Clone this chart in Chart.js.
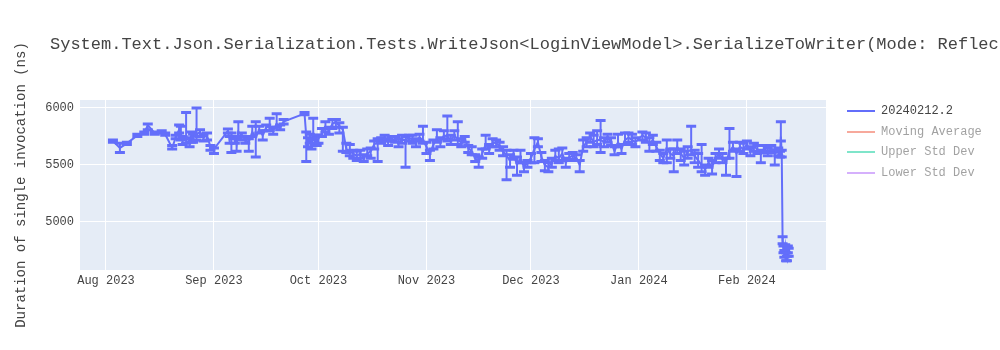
<!DOCTYPE html>
<html>
<head>
<meta charset="utf-8">
<script src="https://cdn.jsdelivr.net/npm/chart.js@4"></script>
<style>
  body { margin: 0; background: #fff; }
  #wrap { position: relative; width: 1000px; height: 350px; font-family: "Courier New", "Liberation Mono", monospace; }
  #title { position: absolute; left: 50px; top: 35px; font-size: 17px; color: #444; white-space: nowrap; }
  #legend { position: absolute; left: 847px; top: 101px; font-size: 12px; color: #444; }
  .row { height: 20.5px; display: flex; align-items: center; white-space: nowrap; }
  .swatch { width: 28px; height: 2px; margin-right: 6px; }
</style>
</head>
<body>
<div id="wrap">
  <canvas id="chart" width="1000" height="350"></canvas>
  <div id="title">System.Text.Json.Serialization.Tests.WriteJson&lt;LoginViewModel&gt;.SerializeToWriter(Mode: Reflection)</div>
  <div id="legend"></div>
</div>
<script>
// Datos
const runDates = [
  '2023-08-03', '2023-08-05', '2023-08-07', '2023-08-10', '2023-08-12', '2023-08-13', '2023-08-15', '2023-08-17',
  '2023-08-18', '2023-08-20', '2023-08-21', '2023-08-22', '2023-08-22T12:00', '2023-08-23', '2023-08-24', '2023-08-25',
  '2023-08-25T12:00', '2023-08-26', '2023-08-27', '2023-08-28', '2023-08-29', '2023-08-30', '2023-08-31', '2023-09-01',
  '2023-09-05', '2023-09-05T12:00', '2023-09-06', '2023-09-07', '2023-09-07T12:00', '2023-09-08', '2023-09-09', '2023-09-10',
  '2023-09-11', '2023-09-12', '2023-09-13', '2023-09-14', '2023-09-15', '2023-09-16', '2023-09-17', '2023-09-18',
  '2023-09-19', '2023-09-20', '2023-09-21', '2023-09-27', '2023-09-27T12:00', '2023-09-28', '2023-09-28T12:00', '2023-09-29',
  '2023-09-29T12:00', '2023-09-30', '2023-09-30T12:00', '2023-10-01', '2023-10-02', '2023-10-03', '2023-10-04', '2023-10-05',
  '2023-10-06', '2023-10-07', '2023-10-08', '2023-10-09', '2023-10-10', '2023-10-11', '2023-10-12', '2023-10-13',
  '2023-10-14', '2023-10-15', '2023-10-16', '2023-10-17', '2023-10-18', '2023-10-19', '2023-10-20', '2023-10-21',
  '2023-10-22', '2023-10-23', '2023-10-24', '2023-10-25', '2023-10-26', '2023-10-27', '2023-10-28', '2023-10-29',
  '2023-10-30', '2023-10-31', '2023-11-01', '2023-11-02', '2023-11-03', '2023-11-04', '2023-11-05', '2023-11-06',
  '2023-11-07', '2023-11-08', '2023-11-09', '2023-11-10', '2023-11-11', '2023-11-12', '2023-11-13', '2023-11-14',
  '2023-11-15', '2023-11-16', '2023-11-17', '2023-11-18', '2023-11-19', '2023-11-20', '2023-11-21', '2023-11-22',
  '2023-11-23', '2023-11-24', '2023-11-25', '2023-11-26', '2023-11-27', '2023-11-28', '2023-11-29', '2023-11-30',
  '2023-12-01', '2023-12-02', '2023-12-03', '2023-12-04', '2023-12-05', '2023-12-06', '2023-12-07', '2023-12-08',
  '2023-12-09', '2023-12-10', '2023-12-11', '2023-12-12', '2023-12-13', '2023-12-14', '2023-12-15', '2023-12-16',
  '2023-12-17', '2023-12-18', '2023-12-19', '2023-12-20', '2023-12-21', '2023-12-22', '2023-12-23', '2023-12-24',
  '2023-12-25', '2023-12-26', '2023-12-27', '2023-12-28', '2023-12-29', '2023-12-30', '2023-12-31', '2024-01-02',
  '2024-01-03', '2024-01-04', '2024-01-05', '2024-01-06', '2024-01-07', '2024-01-08', '2024-01-09', '2024-01-10',
  '2024-01-11', '2024-01-12', '2024-01-13', '2024-01-14', '2024-01-15', '2024-01-16', '2024-01-17', '2024-01-18',
  '2024-01-19', '2024-01-20', '2024-01-21', '2024-01-22', '2024-01-23', '2024-01-24', '2024-01-25', '2024-01-26',
  '2024-01-27', '2024-01-28', '2024-01-29', '2024-01-30', '2024-01-31', '2024-02-01', '2024-02-02', '2024-02-03',
  '2024-02-04', '2024-02-05', '2024-02-06', '2024-02-07', '2024-02-08', '2024-02-09', '2024-02-10', '2024-02-10T12:00',
  '2024-02-10T18:00', '2024-02-11', '2024-02-11T06:00', '2024-02-11T12:00', '2024-02-11T18:00', '2024-02-12', '2024-02-12T06:00', '2024-02-12T12:00',
  '2024-02-12T18:00', '2024-02-13'
];
const durations = [
  5710, 5650, 5690, 5760, 5780, 5850, 5780, 5790,
  5770, 5650, 5740, 5810, 5780, 5720, 5750, 5700,
  5760, 5740, 5770, 5790, 5740, 5760, 5660, 5640,
  5800, 5720, 5740, 5720, 5680, 5790, 5760, 5720,
  5700, 5790, 5740, 5810, 5760, 5830, 5840, 5800,
  5860, 5830, 5880, 5950, 5750, 5700, 5740, 5680,
  5760, 5720, 5700, 5730, 5780, 5830, 5800, 5860,
  5880, 5840, 5810, 5640, 5620, 5600, 5580, 5600,
  5560, 5600, 5620, 5680, 5700, 5720, 5740, 5700,
  5730, 5720, 5700, 5720, 5720, 5740, 5720, 5700,
  5740, 5720, 5660, 5600, 5680, 5730, 5700, 5760,
  5750, 5720, 5760, 5720, 5700, 5730, 5650, 5620,
  5560, 5530, 5600, 5680, 5640, 5700, 5690, 5670,
  5620, 5580, 5540, 5600, 5500, 5560, 5480, 5520,
  5560, 5640, 5700, 5570, 5500, 5480, 5520, 5580,
  5560, 5600, 5520, 5570, 5580, 5560, 5500, 5660,
  5700, 5750, 5700, 5720, 5720, 5700, 5740, 5700,
  5620, 5700, 5640, 5720, 5740, 5720, 5700, 5760,
  5740, 5680, 5720, 5660, 5600, 5560, 5640, 5600,
  5580, 5660, 5600, 5560, 5620, 5630, 5580, 5540,
  5500, 5460, 5520, 5480, 5560, 5600, 5560, 5520,
  5620, 5660, 5600, 5660, 5640, 5680, 5620, 5660,
  5640, 5600, 5640, 5620, 5640, 5600, 5620, 5600,
  5750, 5600, 4840, 4760, 4720, 4780, 4700, 4680,
  4760, 4740
];
const errorUp = [
  10, 40, 10, 10, 10, 10, 10, 10,
  10, 20, 20, 40, 60, 30, 210, 40,
  30, 30, 230, 20, 30, 20, 10, 10,
  15, 30, 40, 30, 50, 90, 20, 30,
  30, 50, 140, 30, 40, 20, 70, 30,
  90, 20, 20, 10, 40, 40, 30, 50,
  150, 40, 60, 30, 40, 50, 30, 40,
  20, 30, 20, 50, 60, 30, 40, 30,
  30, 40, 30, 30, 30, 20, 20, 30,
  20, 30, 30, 40, 30, 20, 40, 30,
  30, 120, 40, 30, 40, 80, 40, 40,
  180, 40, 40, 160, 30, 20, 20, 40,
  30, 40, 40, 80, 40, 30, 30, 30,
  40, 50, 50, 30, 70, 70, 40, 20,
  40, 100, 30, 40, 40, 40, 40, 50,
  80, 50, 40, 30, 30, 30, 40, 60,
  40, 30, 60, 80, 170, 40, 30, 40,
  40, 70, 40, 60, 40, 50, 40, 30,
  40, 60, 40, 40, 30, 40, 80, 40,
  60, 60, 40, 60, 40, 210, 50, 60,
  180, 40, 40, 60, 40, 40, 40, 40,
  200, 40, 40, 40, 50, 30, 40, 30,
  30, 30, 30, 30, 30, 30, 30, 20,
  130, 30, 30, 30, 30, 20, 30, 20,
  30, 30
];
const errorDown = [
  10, 40, 10, 10, 10, 40, 10, 10,
  10, 10, 10, 30, 60, 40, 60, 40,
  60, 40, 50, 40, 30, 40, 30, 40,
  20, 30, 130, 30, 60, 40, 40, 30,
  80, 40, 170, 30, 40, 30, 40, 30,
  30, 20, 20, 10, 220, 40, 50, 40,
  40, 40, 30, 40, 30, 40, 30, 40,
  50, 60, 190, 30, 40, 40, 40, 40,
  30, 20, 60, 40, 170, 30, 30, 30,
  20, 20, 40, 30, 240, 30, 30, 40,
  30, 30, 60, 60, 40, 30, 40, 30,
  40, 40, 40, 40, 40, 30, 40, 30,
  30, 50, 40, 40, 40, 40, 30, 40,
  40, 210, 60, 50, 90, 40, 40, 40,
  40, 120, 40, 40, 50, 40, 40, 40,
  40, 60, 40, 30, 30, 20, 60, 40,
  40, 50, 40, 40, 110, 40, 40, 30,
  30, 40, 40, 40, 40, 40, 40, 40,
  40, 60, 40, 40, 60, 40, 120, 40,
  140, 60, 60, 60, 60, 40, 60, 60,
  60, 50, 40, 60, 40, 40, 40, 110,
  60, 40, 200, 40, 40, 40, 40, 40,
  40, 80, 30, 40, 30, 100, 40, 30,
  40, 30, 30, 30, 30, 30, 40, 20,
  30, 40
];
const monthNames = ['Jan', 'Feb', 'Mar', 'Apr', 'May', 'Jun', 'Jul', 'Aug', 'Sep', 'Oct', 'Nov', 'Dec'];
const monthTicks = ['2023-08-01', '2023-09-01', '2023-10-01', '2023-11-01', '2023-12-01', '2024-01-01', '2024-02-01'];
const yTicks = [5000, 5500, 6000];
const legendItems = [
  { label: '20240212.2', color: '#636efa', hidden: false },
  { label: 'Moving Average', color: '#EF553B', hidden: true },
  { label: 'Upper Std Dev', color: '#00cc96', hidden: true },
  { label: 'Lower Std Dev', color: '#ab63fa', hidden: true }
];

function toTime(s) {
  return Date.parse(s.length === 10 ? s + 'T00:00:00Z' : s + ':00Z');
}

const points = runDates.map((d, i) => ({ x: toTime(d), y: durations[i] }));

// leyenda en html
const legendEl = document.getElementById('legend');
legendItems.forEach(item => {
  const row = document.createElement('div');
  row.className = 'row';
  if (item.hidden) row.style.opacity = 0.5;
  const sw = document.createElement('span');
  sw.className = 'swatch';
  sw.style.background = item.color;
  const txt = document.createElement('span');
  txt.textContent = item.label;
  row.appendChild(sw);
  row.appendChild(txt);
  legendEl.appendChild(row);
});

const plotBg = {
  id: 'plotBg',
  beforeDraw(chart) {
    const a = chart.chartArea;
    const ctx = chart.ctx;
    ctx.save();
    ctx.fillStyle = '#E5ECF6';
    ctx.fillRect(a.left, a.top, a.right - a.left, a.bottom - a.top);
    ctx.restore();
  }
};

// barras de error
const errorBars = {
  id: 'errorBars',
  afterDatasetsDraw(chart) {
    const xs = chart.scales.x, ys = chart.scales.y;
    const ctx = chart.ctx;
    const a = chart.chartArea;
    ctx.save();
    ctx.beginPath();
    ctx.rect(a.left, a.top, a.right - a.left, a.bottom - a.top);
    ctx.clip();
    ctx.strokeStyle = '#636efa';
    points.forEach((p, i) => {
      const x = xs.getPixelForValue(p.x);
      const top = ys.getPixelForValue(p.y + errorUp[i]);
      const bot = ys.getPixelForValue(p.y - errorDown[i]);
      ctx.lineWidth = 2;
      ctx.beginPath();
      ctx.moveTo(x, top);
      ctx.lineTo(x, bot);
      ctx.stroke();
      ctx.lineWidth = 3;
      ctx.beginPath();
      ctx.moveTo(x - 5, top);
      ctx.lineTo(x + 5, top);
      ctx.moveTo(x - 5, bot);
      ctx.lineTo(x + 5, bot);
      ctx.stroke();
    });
    ctx.restore();
  }
};

const tickFont = { family: '"Courier New", "Liberation Mono", monospace', size: 12 };

new Chart(document.getElementById('chart'), {
  type: 'line',
  data: {
    datasets: [{
      label: '20240212.2',
      data: points,
      borderColor: '#636efa',
      borderWidth: 2,
      pointRadius: 0,
      tension: 0
    }]
  },
  options: {
    responsive: false,
    animation: false,
    layout: { padding: { top: 100, right: 174, bottom: 50, left: 0 } },
    plugins: { legend: { display: false }, tooltip: { enabled: false } },
    scales: {
      x: {
        type: 'linear',
        min: Date.UTC(2023, 6, 24, 13),
        max: Date.UTC(2024, 1, 23, 17),
        afterBuildTicks: s => { s.ticks = monthTicks.map(m => ({ value: toTime(m) })); },
        afterFit: s => { s.height = 30; },
        grid: { color: '#ffffff', lineWidth: 1, drawTicks: false },
        border: { display: false },
        ticks: {
          font: tickFont,
          color: '#444',
          padding: 4,
          maxRotation: 0,
          callback: v => {
            const d = new Date(v);
            return monthNames[d.getUTCMonth()] + ' ' + d.getUTCFullYear();
          }
        }
      },
      y: {
        min: 4579,
        max: 6070,
        afterBuildTicks: s => { s.ticks = yTicks.map(v => ({ value: v })); },
        afterFit: s => { s.width = 80; },
        grid: { color: '#ffffff', lineWidth: 1, drawTicks: false },
        border: { display: false },
        ticks: { font: tickFont, color: '#444', padding: 6, callback: v => String(v) },
        title: {
          display: true,
          text: 'Duration of single invocation (ns)',
          font: { family: '"Courier New", "Liberation Mono", monospace', size: 14 },
          color: '#444',
          padding: { top: 13, bottom: 0 }
        }
      }
    }
  },
  plugins: [plotBg, errorBars]
});
</script>
</body>
</html>
